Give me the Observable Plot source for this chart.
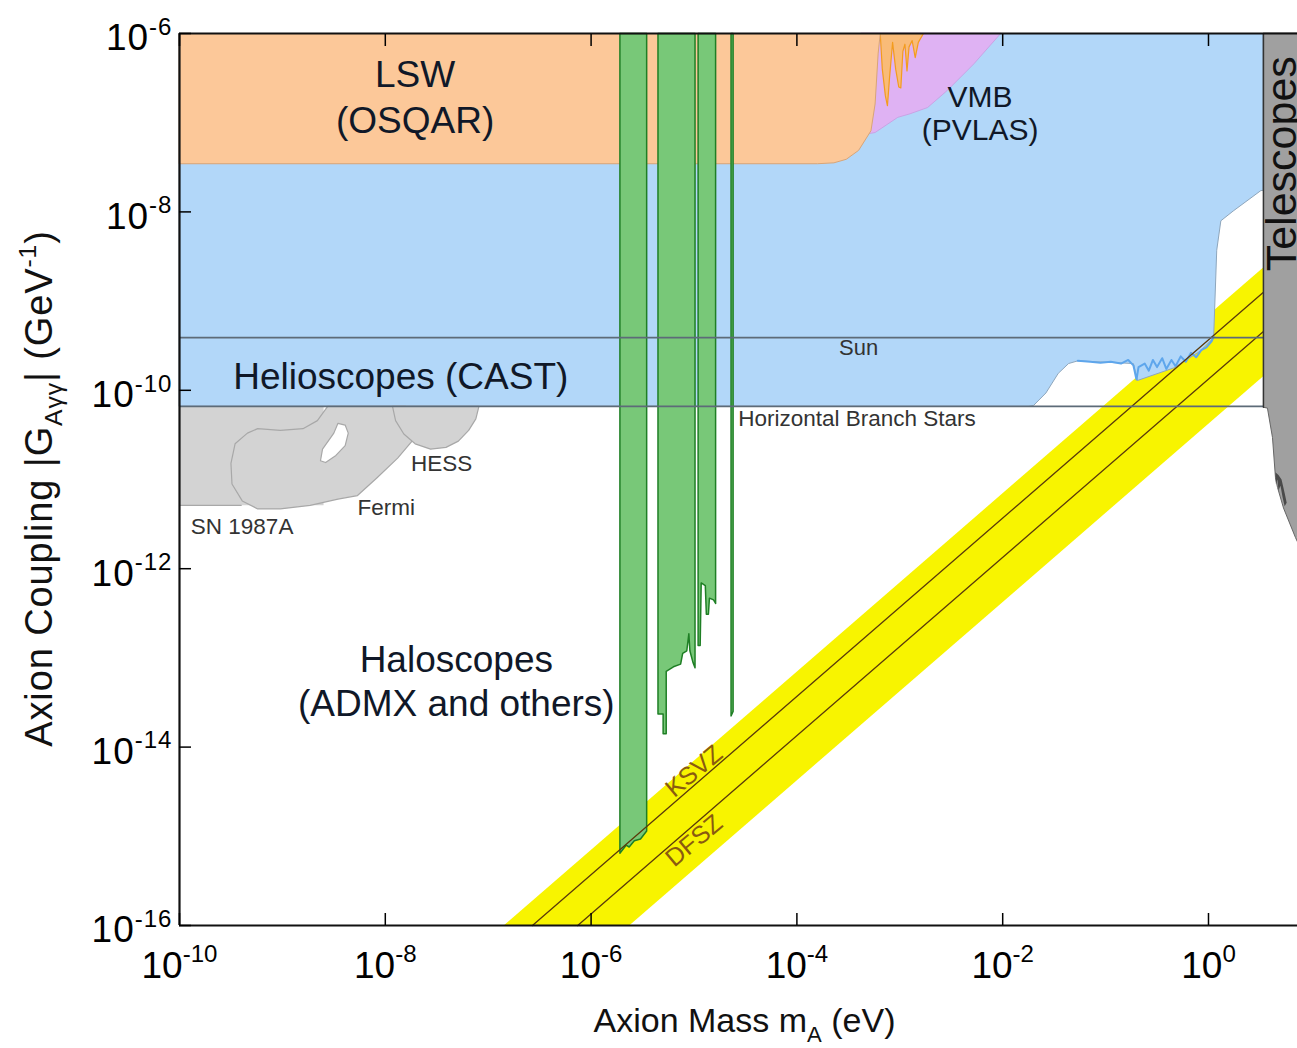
<!DOCTYPE html>
<html><head><meta charset="utf-8">
<script src="https://cdn.jsdelivr.net/npm/d3@7"></script>
<script src="https://cdn.jsdelivr.net/npm/@observablehq/plot@0.6"></script>
<style>html,body{margin:0;padding:0;background:#fff;} svg{display:block;}</style>
</head><body><div id="chart"></div>
<script>
// All values are log10(mass / eV), log10(coupling / GeV^-1).
const xTickExp = [-10, -8, -6, -4, -2, 0];
const yTickExp = [-16, -14, -12, -10, -8, -6];
const xDomainExp = [-10, 0.865];
const yDomainExp = [-16, -6];

const castRegion = [[-10,-6],[0.53,-6],[0.53,-7.76],[0.51,-7.76],[0.24,-7.99],[0.12,-8.10],[0.08,-8.43],[0.05,-9.41],[-0.08,-9.56],[-0.34,-9.75],[-0.69,-9.89],[-0.73,-9.70],[-1.27,-9.67],[-1.36,-9.70],[-1.46,-9.81],[-1.58,-10.03],[-1.70,-10.17],[-1.75,-10.18],[-10,-10.18]];
const castEdge = [[-1.27,-9.67],[-1.15,-9.68],[-1.05,-9.69],[-0.95,-9.68],[-0.85,-9.70],[-0.78,-9.66],[-0.73,-9.72],[-0.70,-9.88],[-0.68,-9.74],[-0.62,-9.70],[-0.58,-9.78],[-0.54,-9.66],[-0.50,-9.74],[-0.45,-9.64],[-0.41,-9.76],[-0.36,-9.66],[-0.32,-9.73],[-0.27,-9.62],[-0.22,-9.68],[-0.17,-9.58],[-0.12,-9.63],[-0.07,-9.55],[-0.02,-9.52],[0.03,-9.45],[0.05,-9.40]];
const lswRegion = [[-10,-6],[-3.19,-6],[-3.21,-6.22],[-3.24,-6.79],[-3.28,-7.09],[-3.40,-7.31],[-3.52,-7.41],[-3.64,-7.45],[-3.80,-7.46],[-10,-7.46]];
const lswFringes = [[-3.19,-6],[-3.17,-6.4],[-3.14,-6.7],[-3.12,-6.81],[-3.10,-6.5],[-3.07,-6.1],[-3.04,-6.4],[-3.01,-6.6],[-2.99,-6.61],[-2.97,-6.2],[-2.95,-6.12],[-2.93,-6.42],[-2.91,-6.15],[-2.88,-6.08],[-2.85,-6.27],[-2.82,-6.1],[-2.77,-6]];
const vmbRegion = [[-3.38,-6],[-3.38,-7.14],[-3.24,-7.11],[-3.02,-6.94],[-2.90,-6.90],[-2.73,-6.83],[-2.54,-6.64],[-2.28,-6.34],[-2.02,-6]];
const sn1987a = [[-10,-10.18],[-8.6,-10.18],[-8.6,-11.29],[-10,-11.29]];
const sn1987aEdge = [[-10,-11.29],[-9.40,-11.29]];
const fermiRegion = [[-8.56,-10.18],[-8.66,-10.34],[-8.80,-10.43],[-9.02,-10.45],[-9.24,-10.43],[-9.34,-10.48],[-9.46,-10.60],[-9.50,-10.82],[-9.49,-11.05],[-9.39,-11.24],[-9.24,-11.33],[-9.02,-11.33],[-8.73,-11.29],[-8.46,-11.22],[-8.27,-11.18],[-8.08,-10.98],[-7.88,-10.76],[-7.74,-10.57],[-7.80,-10.18]];
const fermiHole = [[-8.63,-10.79],[-8.61,-10.66],[-8.50,-10.48],[-8.46,-10.37],[-8.39,-10.39],[-8.36,-10.48],[-8.39,-10.62],[-8.48,-10.73],[-8.58,-10.81]];
const hessRegion = [[-7.93,-10.18],[-7.90,-10.34],[-7.82,-10.49],[-7.71,-10.60],[-7.56,-10.66],[-7.41,-10.64],[-7.29,-10.57],[-7.19,-10.45],[-7.12,-10.32],[-7.09,-10.18]];
const admx1 = [[-5.72,-6],[-5.72,-15.19],[-5.66,-15.10],[-5.63,-15.12],[-5.58,-15.05],[-5.52,-15.03],[-5.46,-14.94],[-5.46,-6]];
const admx2 = [[-5.35,-6],[-5.35,-13.63],[-5.30,-13.63],[-5.30,-13.85],[-5.27,-13.85],[-5.27,-13.15],[-5.20,-13.10],[-5.13,-13.07],[-5.11,-12.95],[-5.07,-12.92],[-5.05,-12.73],[-5.04,-12.92],[-5.01,-13.05],[-4.99,-13.11],[-4.99,-6]];
const admx3 = [[-4.96,-6],[-4.96,-12.86],[-4.94,-12.86],[-4.93,-12.16],[-4.89,-12.19],[-4.88,-12.51],[-4.86,-12.51],[-4.85,-12.33],[-4.81,-12.35],[-4.79,-12.39],[-4.79,-6]];
const admx4 = [[-4.64,-6],[-4.64,-13.65],[-4.62,-13.60],[-4.62,-6]];
const modelBand = [[-6.85,-16],[0.534,-8.62],[0.534,-9.84],[-5.63,-16]];
const ksvzLine = [[-6.57,-16.0],[0.534,-8.90]];
const dfszLine = [[-6.13,-16.0],[0.534,-9.34]];
const telescopes = [[0.534,-6],[0.534,-10.19],[0.573,-10.20],[0.622,-10.53],[0.651,-10.98],[0.671,-11.09],[0.729,-11.32],[0.845,-11.65],[0.865,-11.70],[0.865,-6]];
const telescopesDark = [[0.65,-10.92],[0.655,-11.05],[0.67,-11.0],[0.68,-11.12],[0.70,-11.07],[0.72,-11.2],[0.74,-11.3],[0.76,-11.26],[0.74,-11.15],[0.71,-11.0],[0.68,-10.95]];
const telescopeEdge = [[0.534,-6],[0.534,-10.19]];
const starLevels = [-9.41, -10.18]; // Sun, Horizontal Branch Stars

const bigLabels = [["LSW",-7.71,-6.47],["(OSQAR)",-7.71,-6.98],["Helioscopes (CAST)",-7.85,-9.85],["Haloscopes",-7.31,-13.03],["(ADMX and others)",-7.31,-13.52]];
const vmbLabels = [["VMB",-2.22,-6.72],["(PVLAS)",-2.22,-7.09]];
const smallLabels = [["Sun",-3.40,-9.53,"middle"],["Horizontal Branch Stars",-4.57,-10.32,"start"],["SN 1987A",-9.89,-11.53,"start"],["Fermi",-8.27,-11.32,"start"],["HESS",-7.75,-10.82,"start"]];
const modelLabels = [["KSVZ",-5.00,-14.27],["DFSZ",-5.00,-15.05]];
const telescopeLabel = [["Telescopes",0.72,-7.46]];

const pts = a => a.map(([lx, ly]) => ({x: 10 ** lx, y: 10 ** ly}));
const lab = a => a.map(([t, lx, ly, anc]) => ({t, x: 10 ** lx, y: 10 ** ly, anc}));
const poly = (a, o) => Plot.line(pts(a), {x: "x", y: "y", curve: "linear-closed", ...o});
const fmt = d => `10^{${Math.round(Math.log10(d))}}`;
const xTicks = xTickExp.map(e => 10 ** e);
const yTicks = yTickExp.map(e => 10 ** e);

const chart = Plot.plot({
  width: 1297, height: 1048,
  marginLeft: 179, marginRight: 0, marginTop: 33, marginBottom: 123,
  style: {fontFamily: "'Liberation Sans', Arial, sans-serif", background: "#fff", overflow: "hidden"},
  x: {type: "log", domain: xDomainExp.map(e => 10 ** e), label: null},
  y: {type: "log", domain: yDomainExp.map(e => 10 ** e), label: null},
  marks: [
    poly(modelBand, {fill: "#f8f400", stroke: "none"}),
    poly(castRegion, {fill: "#b2d7f9", stroke: "#8ea6bc", strokeWidth: 1}),
    Plot.line(pts(castEdge), {x: "x", y: "y", stroke: "#5ea6ec", strokeWidth: 2}),
    poly(vmbRegion, {fill: "#dfb2f3", stroke: "#c99ae0", strokeWidth: 0.8}),
    poly(lswFringes, {fill: "#f9bb78", stroke: "#f39c1e", strokeWidth: 1.2}),
    poly(lswRegion, {fill: "#fcc899", stroke: "#d9a577", strokeWidth: 1}),
    poly(sn1987a, {fill: "#d3d3d3", stroke: "none"}),
    Plot.line(pts(sn1987aEdge), {x: "x", y: "y", stroke: "#a8a8a8", strokeWidth: 1.2}),
    poly(fermiRegion, {fill: "#d3d3d3", stroke: "#a8a8a8", strokeWidth: 1.2}),
    poly(fermiHole, {fill: "#ffffff", stroke: "#a8a8a8", strokeWidth: 1.2}),
    poly(hessRegion, {fill: "#d3d3d3", stroke: "#a8a8a8", strokeWidth: 1.2}),
    poly(admx1, {fill: "#78c878", stroke: "#1f7f25", strokeWidth: 1.5}),
    poly(admx2, {fill: "#78c878", stroke: "#1f7f25", strokeWidth: 1.5}),
    poly(admx3, {fill: "#78c878", stroke: "#1f7f25", strokeWidth: 1.5}),
    poly(admx4, {fill: "#78c878", stroke: "#1f7f25", strokeWidth: 1.5}),
    Plot.line(pts(ksvzLine), {x: "x", y: "y", stroke: "#5a3a0a", strokeWidth: 1.3}),
    Plot.line(pts(dfszLine), {x: "x", y: "y", stroke: "#5a3a0a", strokeWidth: 1.3}),
    Plot.ruleY(starLevels.map(e => 10 ** e), {stroke: "#5d6b78", strokeWidth: 1.6}),
    poly(telescopes, {fill: "#a0a0a0", stroke: "#666", strokeWidth: 1}),
    poly(telescopesDark, {fill: "#4a4a4a", stroke: "none"}),
    Plot.line(pts(telescopeEdge), {x: "x", y: "y", stroke: "#333", strokeWidth: 1.5}),
    // text annotations
    Plot.text(lab(bigLabels), {x: "x", y: "y", text: "t", fontSize: 37, fill: "#101828"}),
    Plot.text(lab(vmbLabels), {x: "x", y: "y", text: "t", fontSize: 30, fill: "#101828"}),
    Plot.text(lab(smallLabels), {x: "x", y: "y", text: "t", fontSize: 22.5, fill: "#333", textAnchor: "start", filter: d => d.anc === "start"}),
    Plot.text(lab(smallLabels), {x: "x", y: "y", text: "t", fontSize: 22, fill: "#333", filter: d => d.anc === "middle"}),
    Plot.text(lab(modelLabels), {x: "x", y: "y", text: "t", fontSize: 25, fill: "#8a5a10", rotate: -40}),
    Plot.text(lab(telescopeLabel), {x: "x", y: "y", text: "t", fontSize: 43, fill: "#111", rotate: -90}),
    // frame
    Plot.ruleY([10 ** yDomainExp[0], 10 ** yDomainExp[1]], {stroke: "#111", strokeWidth: 2.2}),
    Plot.ruleX([10 ** xDomainExp[0]], {stroke: "#111", strokeWidth: 2.2}),
    // ticks inside the frame
    Plot.axisX({ticks: xTicks, anchor: "bottom", tickSize: 12, dy: -12, tickFormat: () => "", label: null, strokeWidth: 1.5}),
    Plot.axisX({ticks: xTicks, anchor: "top", tickSize: 12, dy: 12, tickFormat: () => "", label: null, strokeWidth: 1.5}),
    Plot.axisY({ticks: yTicks, anchor: "left", tickSize: 12, dx: 12, tickFormat: () => "", label: null, strokeWidth: 1.5}),
    // tick labels
    Plot.axisX({ticks: xTicks, anchor: "bottom", tickSize: 0, tickPadding: 26, tickFormat: fmt, label: null, fontSize: 37, fill: "#000"}),
    Plot.axisY({ticks: yTicks, anchor: "left", tickSize: 0, tickPadding: 7, dy: 5, tickFormat: fmt, label: null, fontSize: 37, fill: "#000"}),
    // axis titles
    Plot.text(["Axion Mass m_{A} (eV)"], {frameAnchor: "bottom", lineAnchor: "middle", text: d => d, dy: 96, dx: 6, fontSize: 34, fill: "#111"}),
    Plot.text(["Axion Coupling |G_{Aγγ}| (GeV^{-1})"], {frameAnchor: "left", textAnchor: "middle", lineAnchor: "middle", text: d => d, dx: -140, dy: 9, rotate: -90, fontSize: 38, fill: "#111"})
  ]
});

document.getElementById("chart").appendChild(chart);

// render _{..} and ^{..} markup as sub/superscripts
chart.querySelectorAll("text").forEach(el => {
  const t = el.textContent;
  if (!/[_^]\{/.test(t)) return;
  const fs = parseFloat(getComputedStyle(el).fontSize) || 16;
  if (/^Axion Coupling/.test(t)) el.setAttribute("letter-spacing", "0.9");
  if (/^10\^/.test(t) && el.closest("[aria-label^='y-axis']")) el.setAttribute("letter-spacing", "1");
  while (el.firstChild) el.removeChild(el.firstChild);
  const re = /([_^])\{([^}]*)\}/g;
  let last = 0, m, shift = 0;
  const add = (txt, dy, size) => {
    const ts = document.createElementNS("http://www.w3.org/2000/svg", "tspan");
    if (dy) ts.setAttribute("dy", dy);
    if (size) ts.setAttribute("font-size", size);
    ts.textContent = txt;
    el.appendChild(ts);
  };
  while ((m = re.exec(t))) {
    if (m.index > last) { add(t.slice(last, m.index), -shift); shift = 0; }
    const s = m[1] === "^" ? -0.42 * fs : 0.28 * fs;
    add(m[2], s - shift, 0.65 * fs);
    shift = s;
    last = re.lastIndex;
  }
  if (last < t.length) add(t.slice(last), -shift);
});
</script>
</body></html>
